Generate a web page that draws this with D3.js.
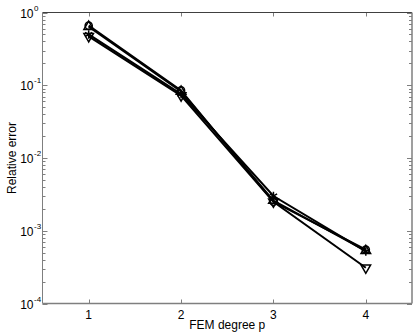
<!DOCTYPE html>
<html>
<head>
<meta charset="utf-8">
<script src="https://cdn.jsdelivr.net/npm/d3@7"></script>
<style>
  body { margin: 0; background: #fff; }
  text { font-family: "Liberation Sans", Arial, sans-serif; font-size: 11px; fill: #000; }
</style>
</head>
<body>
<svg id="svg"></svg>
<script>
const width = 415;
const height = 334;

// data
const degrees = [1, 2, 3, 4];
const errCircle = [0.66, 0.085, 0.0025, 0.00055];
const errUp = [0.64, 0.082, 0.0026, 0.00053];
const errStar = [0.50, 0.076, 0.0030, 0.00052];
const errDown = [0.47, 0.072, 0.0025, 0.00031];
const yTicks = [1e-4, 1e-3, 1e-2, 1e-1, 1];
const yExps = ["-4", "-3", "-2", "-1", "0"];

const series = [
  { values: errCircle, marker: "circle" },
  { values: errUp, marker: "up" },
  { values: errStar, marker: "star" },
  { values: errDown, marker: "down" }
];

let svg = d3.select("#svg").attr("width", width).attr("height", height);

const mLeft = 42.5, mRight = 412, mTop = 12.5, mBottom = 303.5;

let x = d3.scaleLinear().domain([0.5, 4.5]).range([mLeft, mRight]);
let y = d3.scaleLog().domain([1e-4, 1]).range([mBottom, mTop]);

const axisColor = "#7f7f7f";

// minor ticks on log axis
let minor = [];
for (let e = -4; e < 0; e++) {
    for (let m = 2; m <= 9; m++) minor.push(m * Math.pow(10, e));
}

let g = svg.append("g");
const py = d => Math.round(y(d)) + 0.5;
const px = d => Math.round(x(d)) + 0.5;

// ticks, inward on both sides
g.selectAll(null).data(minor).enter().append("line")
    .attr("x1", mLeft).attr("x2", mLeft + 3)
    .attr("y1", py).attr("y2", py)
    .attr("stroke", axisColor);
g.selectAll(null).data(minor).enter().append("line")
    .attr("x1", mRight).attr("x2", mRight - 3)
    .attr("y1", py).attr("y2", py)
    .attr("stroke", axisColor);
g.selectAll(null).data(yTicks).enter().append("line")
    .attr("x1", mLeft).attr("x2", mLeft + 5)
    .attr("y1", py).attr("y2", py)
    .attr("stroke", axisColor);
g.selectAll(null).data(yTicks).enter().append("line")
    .attr("x1", mRight).attr("x2", mRight - 5)
    .attr("y1", py).attr("y2", py)
    .attr("stroke", axisColor);
g.selectAll(null).data(degrees).enter().append("line")
    .attr("x1", px).attr("x2", px)
    .attr("y1", mBottom).attr("y2", mBottom - 4)
    .attr("stroke", axisColor);
g.selectAll(null).data(degrees).enter().append("line")
    .attr("x1", px).attr("x2", px)
    .attr("y1", mTop).attr("y2", mTop + 4)
    .attr("stroke", axisColor);

// box
svg.append("line").attr("x1", mLeft).attr("x2", mRight).attr("y1", mTop).attr("y2", mTop).attr("stroke", "#404040");
svg.append("line").attr("x1", mRight).attr("x2", mRight).attr("y1", mTop).attr("y2", mBottom).attr("stroke", axisColor).attr("stroke-width", 1.5);
svg.append("line").attr("x1", mLeft).attr("x2", mLeft).attr("y1", mTop).attr("y2", mBottom).attr("stroke", axisColor);
svg.append("line").attr("x1", mLeft).attr("x2", mRight).attr("y1", mBottom).attr("y2", mBottom).attr("stroke", axisColor).attr("stroke-width", 1.5);

// tick labels: 10 with exponent
svg.selectAll(null).data(yTicks).enter().append("text")
    .attr("x", mLeft - 9).attr("y", d => y(d) + 5)
    .attr("text-anchor", "end")
    .style("font-size", "12px")
    .text("10");
svg.selectAll(null).data(yTicks).enter().append("text")
    .attr("x", mLeft - 8.5).attr("y", d => y(d) - 2)
    .style("font-size", "8px")
    .text((d, i) => yExps[i]);

svg.selectAll(null).data(degrees).enter().append("text")
    .attr("x", d => x(d)).attr("y", mBottom + 15)
    .attr("text-anchor", "middle")
    .style("font-size", "12px")
    .text(d => d);

svg.append("text").attr("x", (mLeft + mRight) / 2).attr("y", 329)
    .attr("text-anchor", "middle").style("font-size", "12px").text("FEM degree p");
svg.append("text").attr("transform", "translate(16," + ((mTop + mBottom) / 2) + ") rotate(-90)")
    .attr("text-anchor", "middle").style("font-size", "12px").text("Relative error");

// lines
let line = d3.line().x((d, i) => x(degrees[i])).y(d => y(d));
series.forEach(s => {
    svg.append("path").attr("d", line(s.values))
        .attr("fill", "none").attr("stroke", "#000").attr("stroke-width", 2);
});

// markers
const sym = {
    circle: d3.symbol().type(d3.symbolCircle).size(40),
    up: d3.symbol().type(d3.symbolTriangle).size(40),
    down: d3.symbol().type(d3.symbolTriangle).size(40),
    star: d3.symbol().type(d3.symbolAsterisk).size(50)
};
series.forEach(s => {
    svg.selectAll(null).data(s.values).enter().append("path")
        .attr("d", sym[s.marker]())
        .attr("transform", (d, i) => "translate(" + x(degrees[i]) + "," + y(d) + ")" + (s.marker === "down" ? " rotate(180)" : ""))
        .attr("fill", "none").attr("stroke", "#000").attr("stroke-width", 1.5);
});
</script>
</body>
</html>
